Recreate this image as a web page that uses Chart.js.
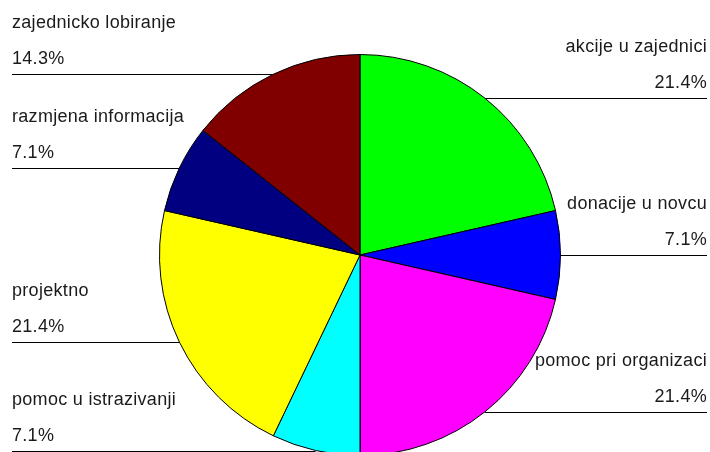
<!DOCTYPE html>
<html>
<head>
<meta charset="utf-8">
<script src="https://cdn.jsdelivr.net/npm/chart.js@4/dist/chart.umd.min.js"></script>
<style>
  html, body { margin: 0; padding: 0; background: #ffffff; overflow: hidden; }
  #wrap { width: 710px; height: 460px; }
</style>
</head>
<body>
<div id="wrap"><canvas id="pie-chart"></canvas></div>
<script>
// categories and values, clockwise from the top
const categories = ["akcije u zajednici", "donacije u novcu", "pomoc pri organizaci",
  "pomoc u istrazivanji", "projektno", "razmjena informacija", "zajednicko lobiranje"];
const shares = [21.4, 7.1, 21.4, 7.1, 21.4, 7.1, 14.3];
const sliceColors = ["#00ff00", "#0000ff", "#ff00ff", "#00ffff", "#ffff00", "#000080", "#800000"];

const ctx = document.getElementById("pie-chart").getContext("2d");

// draws the labels with their leader lines, like the original
const leaderLabels = {
  id: "leaderLabels",
  afterDatasetsDraw(chart) {
    const c = chart.ctx;
    const meta = chart.getDatasetMeta(0);
    c.save();
    c.font = "18px 'Liberation Sans', Arial, sans-serif";
    c.letterSpacing = "0.3px";
    c.fillStyle = "#1a1a1a";
    c.strokeStyle = "#000000";
    c.lineWidth = 1;
    c.textBaseline = "middle";
    meta.data.forEach((arc, i) => {
      const p = arc.getProps(["x", "y", "startAngle", "endAngle", "outerRadius"], true);
      const mid = (p.startAngle + p.endAngle) / 2;
      const px = p.x + Math.cos(mid) * p.outerRadius;
      const py = Math.round(p.y + Math.sin(mid) * p.outerRadius) + 0.5;
      const right = px > p.x;
      const pct = shares[i].toFixed(1) + "%";
      c.beginPath();
      if (right) {
        c.moveTo(px, py);
        c.lineTo(707, py);
        c.textAlign = "right";
        c.fillText(categories[i], 707, py - 51);
        c.fillText(pct, 707, py - 15);
      } else {
        c.moveTo(12, py);
        c.lineTo(px, py);
        c.textAlign = "left";
        c.fillText(categories[i], 12, py - 51);
        c.fillText(pct, 12, py - 15);
      }
      c.stroke();
    });
    c.restore();
  }
};

new Chart(ctx, {
  type: "pie",
  data: {
    labels: categories,
    datasets: [{
      data: shares,
      backgroundColor: sliceColors,
      borderColor: "#000000",
      borderWidth: 1
    }]
  },
  options: {
    responsive: true,
    maintainAspectRatio: false,
    animation: false,
    layout: { padding: { top: 54, bottom: 4, left: 159, right: 149 } },
    plugins: {
      legend: { display: false },
      tooltip: { enabled: false }
    }
  },
  plugins: [leaderLabels]
});
</script>
</body>
</html>
